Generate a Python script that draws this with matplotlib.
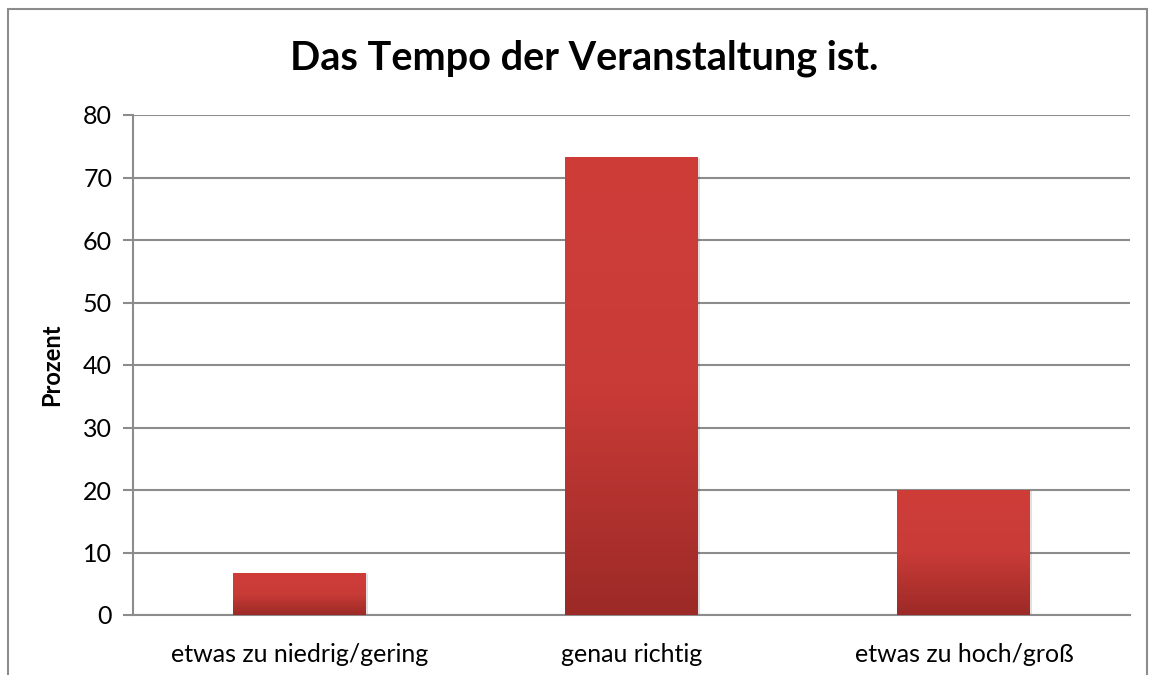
import matplotlib.pyplot as plt
import numpy as np
from matplotlib.patches import Rectangle
from matplotlib.colors import LinearSegmentedColormap

# Daten
kategorien = ["etwas zu niedrig/gering", "genau richtig", "etwas zu hoch/groß"]
prozent = [6.67, 73.33, 20.0]
y_ticks = [0, 10, 20, 30, 40, 50, 60, 70, 80]

plt.rcParams['font.family'] = ['Lato', 'DejaVu Sans']

fig = plt.figure(figsize=(11.53, 6.75), dpi=100)
ax = fig.add_axes([133 / 1153, 1 - 615 / 675, (1130 - 133) / 1153, 500 / 675])

# Rahmen um das Diagramm
fig.patches.append(Rectangle((8 / 1153, -0.05), (1147 - 8) / 1153, 1.05 - 9 / 675,
                             transform=fig.transFigure, fill=False,
                             edgecolor='#8c8c8c', linewidth=1.5))

cmap = LinearSegmentedColormap.from_list('rot', ['#9c2a27', '#c93b37', '#cf3d39'])
grad = np.linspace(0, 1, 256).reshape(-1, 1)

x = np.arange(len(kategorien))
breite = 0.40
bars = ax.bar(x, prozent, width=breite, color='none', zorder=3)
for b in bars:
    x0, y0, w, h = b.get_x(), b.get_y(), b.get_width(), b.get_height()
    # leichter Schatten
    ax.add_patch(Rectangle((x0 + 0.006, y0), w, h - 0.15, facecolor='#000000',
                           alpha=0.12, zorder=2.5, linewidth=0))
    im = ax.imshow(grad, cmap=cmap, origin='lower', aspect='auto',
                   extent=[x0, x0 + w, y0, y0 + h], zorder=3)
    im.set_clip_path(b)

ax.set_xlim(-0.5, len(kategorien) - 0.5)
ax.set_ylim(0, 80)
ax.set_yticks(y_ticks)
ax.set_xticks(x)
ax.set_xticklabels(kategorien, fontsize=18)
ax.tick_params(axis='y', labelsize=18, length=7, width=1.5, color='#8c8c8c', pad=8)
ax.tick_params(axis='x', length=0, pad=20)
ax.grid(axis='y', color='#8c8c8c', linewidth=1.5, zorder=1)
ax.set_axisbelow(True)

for s in ['top', 'right']:
    ax.spines[s].set_visible(False)
for s in ['left', 'bottom']:
    ax.spines[s].set_color('#8c8c8c')
    ax.spines[s].set_linewidth(1.5)

ax.set_ylabel('Prozent', fontsize=17, fontweight='bold', labelpad=14)
fig.text(584 / 1153, 1 - 58 / 675, 'Das Tempo der Veranstaltung ist.', ha='center',
         va='center', fontsize=28.5, fontweight='bold')

fig.savefig('out.png', dpi=100)
